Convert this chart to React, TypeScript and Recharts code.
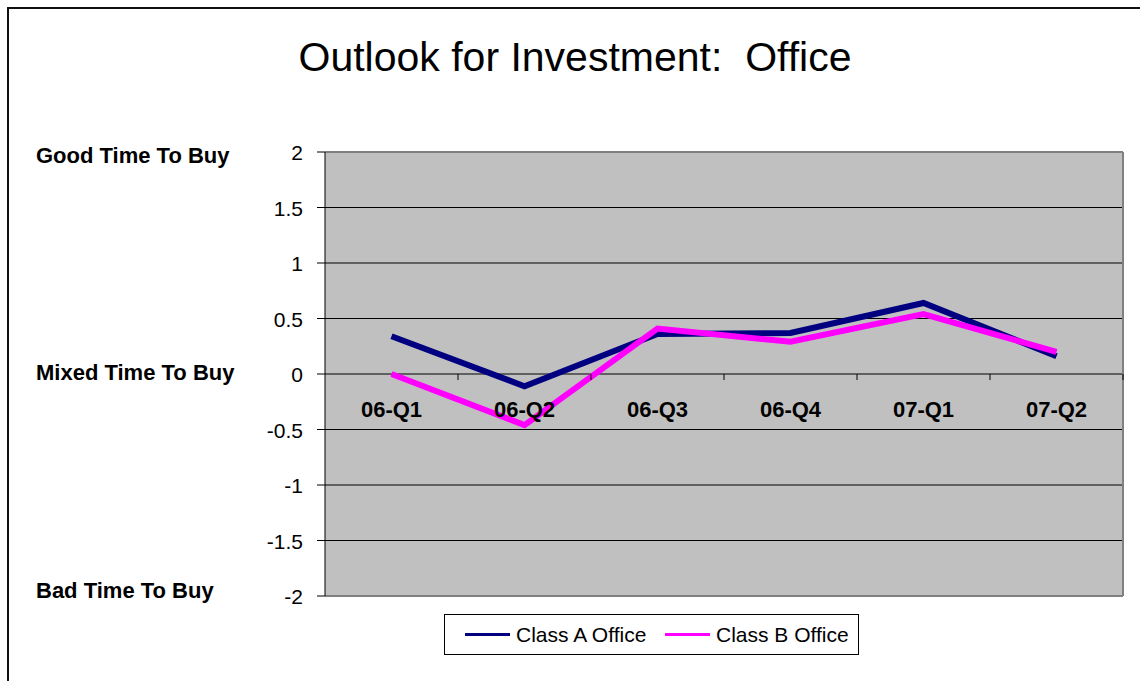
import { LineChart, Line, XAxis, YAxis, CartesianGrid } from "recharts"

const quarters = ["06-Q1", "06-Q2", "06-Q3", "06-Q4", "07-Q1", "07-Q2"]
const classA = [0.34, -0.11, 0.36, 0.37, 0.64, 0.16]
const classB = [0, -0.46, 0.41, 0.29, 0.54, 0.2]
const yTicks = [2, 1.5, 1, 0.5, 0, -0.5, -1, -1.5, -2]
const zoneLabels: Record<string, string> = {
  "2": "Good Time To Buy",
  "0": "Mixed Time To Buy",
  "-2": "Bad Time To Buy",
}

const series = [
  { key: "a", name: "Class A Office", color: "#000080" },
  { key: "b", name: "Class B Office", color: "#FF00FF" },
]

const FONT = "'Liberation Sans', Arial, Helvetica, sans-serif"
const W = 1140
const H = 681
const PLOT_LEFT = 325
const PLOT_RIGHT = 1123
const PLOT_TOP = 152
const PLOT_BOTTOM = 596
const ZERO_Y = (PLOT_TOP + PLOT_BOTTOM) / 2
const BAND = (PLOT_RIGHT - PLOT_LEFT) / quarters.length

const data = quarters.map((q, i) => ({ quarter: q, a: classA[i], b: classB[i] }))

const YTick = ({ x, y, payload }: any) => {
  const zone = zoneLabels[String(payload.value)]
  // zone labels sit a little toward the middle of the plot
  const shift = payload.value > 0 ? 3 : payload.value < 0 ? -6 : -2
  return (
    <g>
      <text x={x} y={y} dy="0.4em" textAnchor="end" fontSize={21} fontFamily={FONT} fill="#000">
        {String(payload.value)}
      </text>
      {zone && (
        <text x={36} y={y + shift} dy="0.36em" textAnchor="start" fontSize={22} fontWeight="bold" fontFamily={FONT} fill="#000">
          {zone}
        </text>
      )}
    </g>
  )
}

const XTick = ({ x, payload }: any) => {
  const right = x + BAND / 2
  return (
    <g>
      <line x1={right} x2={right} y1={ZERO_Y} y2={ZERO_Y + 6} stroke="#000" strokeWidth={1} />
      <text x={x} y={ZERO_Y + 43} textAnchor="middle" fontSize={22} fontWeight="bold" fontFamily={FONT} fill="#000">
        {payload.value}
      </text>
    </g>
  )
}

export default function App() {
  return (
    <div style={{ position: "relative", width: W, height: H, overflow: "hidden", background: "#fff" }}>
      <style>{`body{margin:0}`}</style>
      <div
        style={{
          position: "absolute",
          left: 7,
          top: 7,
          width: 1300,
          height: 900,
          border: "2px solid #111",
        }}
      />
      <div
        style={{
          position: "absolute",
          left: 0,
          top: 37,
          width: 1150,
          textAlign: "center",
          fontFamily: FONT,
          fontSize: 41,
          lineHeight: "41px",
          whiteSpace: "pre",
          color: "#000",
        }}
      >
        {"Outlook for Investment:  Office"}
      </div>
      <div style={{ position: "absolute", left: 0, top: 0 }}>
        <LineChart
          width={W}
          height={H}
          data={data}
          margin={{ top: PLOT_TOP, right: W - PLOT_RIGHT, bottom: H - PLOT_BOTTOM - 30, left: 0 }}
        >
          <CartesianGrid vertical={false} stroke="#000" fill="#C0C0C0" />
          <CartesianGrid
            horizontalPoints={[PLOT_TOP, PLOT_BOTTOM]}
            verticalPoints={[PLOT_RIGHT]}
            stroke="#808080"
            strokeWidth={2}
          />
          <XAxis
            dataKey="quarter"
            height={30}
            axisLine={false}
            tickLine={false}
            interval={0}
            padding={{ left: BAND / 2, right: BAND / 2 }}
            tick={<XTick />}
          />
          <YAxis
            width={PLOT_LEFT}
            domain={[-2, 2]}
            ticks={yTicks}
            interval={0}
            tickSize={8}
            tickMargin={14}
            axisLine={{ stroke: "#000" }}
            tickLine={{ stroke: "#000" }}
            tick={<YTick />}
          />
          {series.map((s) => (
            <Line
              key={s.key}
              type="linear"
              dataKey={s.key}
              name={s.name}
              stroke={s.color}
              strokeWidth={6}
              dot={false}
              activeDot={false}
              isAnimationActive={false}
            />
          ))}
        </LineChart>
      </div>
      <div
        style={{
          position: "absolute",
          left: 444,
          top: 614,
          width: 415,
          height: 41,
          boxSizing: "border-box",
          border: "1px solid #000",
          fontFamily: FONT,
          fontSize: 21,
        }}
      >
        {series.map((s, i) => (
          <div
            key={s.key}
            style={{ position: "absolute", left: 20, top: 0, height: 39, display: "flex", alignItems: "center", marginLeft: i * 200 }}
          >
            <span style={{ display: "inline-block", width: 45, height: 3, background: s.color, marginRight: 6 }} />
            <span style={{ whiteSpace: "nowrap" }}>{s.name}</span>
          </div>
        ))}
      </div>
    </div>
  )
}
